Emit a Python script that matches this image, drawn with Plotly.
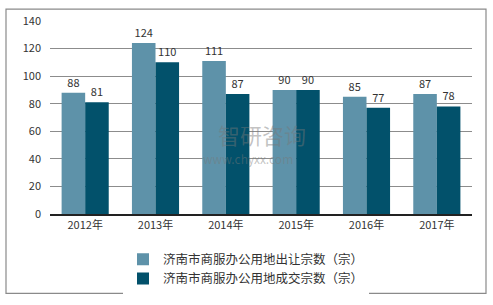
import plotly.graph_objects as go

categories = ["2012年", "2013年", "2014年", "2015年", "2016年", "2017年"]
series1_name = "济南市商服办公用地出让宗数（宗）"
series2_name = "济南市商服办公用地成交宗数（宗）"
series1 = [88, 124, 111, 90, 85, 87]
series2 = [81, 110, 87, 90, 77, 78]
y_ticks = [0, 20, 40, 60, 80, 100, 120, 140]

font_family = "Noto Sans CJK SC, Noto Sans, sans-serif"

fig = go.Figure()
fig.add_trace(go.Bar(
    x=categories, y=series1, name=series1_name,
    marker=dict(color="#5E92A9", line=dict(width=0)),
    text=series1, textposition="outside", cliponaxis=False,
    textfont=dict(size=11, color="#333333"),
))
fig.add_trace(go.Bar(
    x=categories, y=series2, name=series2_name,
    marker=dict(color="#02516B", line=dict(width=0)),
    text=series2, textposition="outside", cliponaxis=False,
    textfont=dict(size=11, color="#333333"),
))

L, R, T, B = 50, 21, 16, 87
W, H = 493, 305
pw, ph = W - L - R, H - T - B

def px_x(x):
    return (x - L) / pw

def px_y(y):
    return (H - B - y) / ph

fig.update_layout(
    width=W, height=H,
    margin=dict(l=L, r=R, t=T, b=B),
    paper_bgcolor="white", plot_bgcolor="white",
    font=dict(family=font_family, size=11, color="#333333"),
    barmode="group", bargap=0.33, bargroupgap=0,
    showlegend=True,
    legend=dict(
        orientation="v", x=px_x(123), y=px_y(250), xanchor="left", yanchor="top",
        font=dict(size=12.5, color="#333333"), tracegroupgap=0,
        itemwidth=30,
    ),
    xaxis=dict(
        showgrid=False, showline=True, linecolor="#222222", linewidth=1.5,
        ticks="", tickfont=dict(size=11),
    ),
    yaxis=dict(
        range=[0, 140], tickvals=y_ticks, showgrid=True, gridcolor="#8C8C8C",
        gridwidth=1, zeroline=False, showline=False, ticks="",
        tickfont=dict(size=11), ticklabelstandoff=8,
    ),
    shapes=[dict(
        type="rect", xref="paper", yref="paper",
        x0=px_x(6), x1=px_x(486), y0=px_y(301), y1=px_y(3.5),
        line=dict(color="#8A8A8A", width=1.2), fillcolor="rgba(0,0,0,0)",
        layer="below",
    )],
    annotations=[
        dict(text="智研咨询", xref="paper", yref="paper", x=px_x(262), y=px_y(134),
             showarrow=False, font=dict(size=22, color="rgba(120,120,120,0.45)")),
        dict(text="www.chyxx.com", xref="paper", yref="paper", x=px_x(248), y=px_y(171),
             showarrow=False, font=dict(size=12, color="rgba(120,120,120,0.45)")),
    ],
)

fig.write_html("out.html")
